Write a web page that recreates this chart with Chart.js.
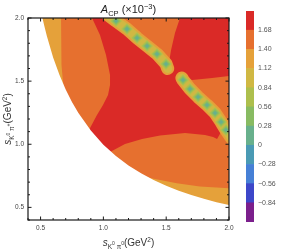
<!DOCTYPE html>
<html>
<head>
<meta charset="utf-8">
<script src="https://cdn.jsdelivr.net/npm/chart.js@4.4.0/dist/chart.umd.min.js"></script>
<style>
    body { margin: 0; background: #fff; }
    #wrap { position: relative; width: 282px; height: 249px; }
    #acp { position: absolute; left: 0; top: 0; }
    #legenda { position: absolute; left: 240px; top: 0; }
</style>
</head>
<body>
<div id="wrap">
    <canvas id="acp" width="282" height="249"></canvas>
    <canvas id="legenda" width="42" height="249"></canvas>
</div>
<script>
const FONT = "'Liberation Sans', Arial, sans-serif";

// colour bands of the A_CP legend, lowest first
const levels = [-1.12, -0.84, -0.56, -0.28, 0, 0.28, 0.56, 0.84, 1.12, 1.4, 1.68, 1.96];
const levelLabels = ["\u22120.84", "\u22120.56", "\u22120.28", "0", "0.28", "0.56", "0.84", "1.12", "1.40", "1.68"];
const levelColors = [
    "#7b1f8c", "#3d47c9", "#4680d6", "#4a9ab4", "#68b08c", "#88bb62",
    "#adbf4d", "#d0b843", "#e5a13a", "#e6702f", "#da2a27",
];

const axisTicks = [0.5, 1.0, 1.5, 2.0];
const minorTicks = [0.4, 0.5, 0.6, 0.7, 0.8, 0.9, 1.0, 1.1, 1.2, 1.3, 1.4, 1.5, 1.6, 1.7, 1.8, 1.9, 2.0];

// edge of the phase space (s_K0pi0, s_K0pi+)
const dalitzEdge = [
    [0.515, 2.0], [0.53, 1.937], [0.55, 1.858], [0.6, 1.688], [0.65, 1.55], [0.7, 1.433],
    [0.75, 1.334], [0.8, 1.249], [0.9, 1.108], [1.0, 0.996], [1.1, 0.907], [1.2, 0.832],
    [1.3, 0.77], [1.4, 0.717], [1.5, 0.672], [1.6, 0.632], [1.7, 0.598], [1.8, 0.568],
    [1.9, 0.541], [2.0, 0.518],
];

// regions of the contour map
const baseRegion = [[0.4, 0.4], [2.0, 0.4], [2.0, 2.0], [0.4, 2.0]];
const leftBand = [
    [0.4, 2.0], [0.663, 2.0], [0.665, 1.75], [0.668, 1.63], [0.679, 1.49], [0.69, 1.41],
    [0.7, 1.37], [0.6, 1.3], [0.4, 1.3],
];
const bottomBand = [
    [1.3, 0.76], [1.371, 0.732], [1.584, 0.692], [1.768, 0.666], [2.0, 0.652], [2.0, 0.4], [1.3, 0.4],
];
const redRegion = [
    [0.91, 2.0], [1.068, 2.0], [1.101, 1.976], [1.188, 1.913], [1.268, 1.842], [1.348, 1.778],
    [1.427, 1.715], [1.499, 1.636], [1.507, 1.604], [1.523, 1.652], [1.539, 1.747], [1.57, 1.881],
    [1.61, 2.0], [2.0, 2.0], [2.0, 1.541], [1.865, 1.525], [1.706, 1.509], [1.65, 1.53],
    [1.634, 1.509], [1.69, 1.438], [1.754, 1.374], [1.825, 1.311], [1.889, 1.248], [1.937, 1.176],
    [1.95, 1.12], [1.905, 1.042], [1.873, 1.057], [1.809, 1.073], [1.65, 1.089], [1.451, 1.069],
    [1.308, 1.042], [1.172, 1.002], [1.053, 0.939], [1.0, 0.92], [0.85, 1.0], [0.894, 1.129],
    [0.949, 1.232], [0.997, 1.311], [1.037, 1.39], [1.053, 1.469], [1.053, 1.548], [1.021, 1.707],
    [0.973, 1.865],
];

// the two chains of small A_CP
const upperRidge = [
    [1.03, 2.03], [1.101, 1.976], [1.188, 1.913], [1.268, 1.842], [1.348, 1.778],
    [1.427, 1.715], [1.499, 1.636], [1.512, 1.6],
];
const upperSpots = [
    [1.101, 1.976], [1.188, 1.913], [1.268, 1.842], [1.348, 1.778], [1.427, 1.715], [1.499, 1.636],
];
const lowerRidge = [
    [1.625, 1.525], [1.634, 1.509], [1.69, 1.438], [1.754, 1.374], [1.825, 1.311],
    [1.889, 1.248], [1.937, 1.176], [1.976, 1.113], [2.02, 1.05],
];
const lowerSpots = [
    [1.634, 1.509], [1.69, 1.438], [1.754, 1.374], [1.825, 1.311], [1.889, 1.248],
    [1.937, 1.176], [1.976, 1.113],
];

function pts(list) {
    return list.map(([x, y]) => ({ x: x, y: y }));
}

function area(list, color) {
    return {
        data: pts(list),
        showLine: true,
        fill: "shape",
        backgroundColor: color,
        borderColor: "rgba(0,0,0,0)",
        borderWidth: 0,
        pointRadius: 0,
        tension: 0,
        clip: 0,
    };
}

function ridge(list, color, width) {
    return {
        data: pts(list),
        showLine: true,
        fill: false,
        borderColor: color,
        borderWidth: width,
        borderCapStyle: "round",
        borderJoinStyle: "round",
        pointRadius: 0,
        tension: 0,
        clip: 0,
    };
}

function spots(list, color, r) {
    return {
        data: pts(list),
        showLine: false,
        pointStyle: "rectRot",
        pointRadius: r,
        pointBackgroundColor: color,
        pointBorderColor: "rgba(0,0,0,0)",
        pointBorderWidth: 0,
        clip: 0,
    };
}

let outside = dalitzEdge.concat([[2.0, 0.4], [0.4, 0.4], [0.4, 2.0]]);
let allSpots = upperSpots.concat(lowerSpots);

// bottom layer first
let camadas = [
    area(baseRegion, levelColors[9]),
    area(leftBand, levelColors[8]),
    area(bottomBand, levelColors[8]),
    area(redRegion, levelColors[10]),
    ridge(upperRidge, levelColors[8], 13),
    ridge(lowerRidge, levelColors[8], 13),
    ridge(upperRidge, levelColors[7], 9),
    ridge(lowerRidge, levelColors[7], 9),
    spots(allSpots, levelColors[6], 5.8),
    spots(allSpots, levelColors[5], 4),
    spots(allSpots, levelColors[4], 2.3),
    area(outside, "#ffffff"),
];

function drawRuns(ctx, runs, x, y) {
    let total = 0;
    runs.forEach((r) => {
        ctx.font = (r.it ? "italic " : "") + r.s + "px " + FONT;
        r.w = ctx.measureText(r.t).width;
        total += r.w;
    });
    let cx = x - total / 2;
    runs.forEach((r) => {
        ctx.font = (r.it ? "italic " : "") + r.s + "px " + FONT;
        ctx.fillText(r.t, cx, y + (r.dy || 0));
        cx += r.w;
    });
}

const molduraPlugin = {
    id: "moldura",
    afterDatasetsDraw(chart) {
        const ctx = chart.ctx;
        const a = chart.chartArea;
        const sx = chart.scales.x;
        const sy = chart.scales.y;
        ctx.save();
        ctx.strokeStyle = "#1a1a1a";
        ctx.lineWidth = 1.2;
        ctx.strokeRect(a.left, a.top, a.right - a.left, a.bottom - a.top);
        ctx.lineWidth = 1;
        ctx.beginPath();
        minorTicks.forEach((v) => {
            let len = axisTicks.some((m) => Math.abs(m - v) < 1e-6) ? 3.5 : 2;
            let px = sx.getPixelForValue(v);
            ctx.moveTo(px, a.bottom);
            ctx.lineTo(px, a.bottom - len);
            ctx.moveTo(px, a.top);
            ctx.lineTo(px, a.top + len);
            let py = sy.getPixelForValue(v);
            ctx.moveTo(a.left, py);
            ctx.lineTo(a.left + len, py);
            ctx.moveTo(a.right, py);
            ctx.lineTo(a.right - len, py);
        });
        ctx.stroke();
        ctx.restore();
    },
    afterDraw(chart) {
        const ctx = chart.ctx;
        const a = chart.chartArea;
        const cx = (a.left + a.right) / 2;
        ctx.save();
        ctx.fillStyle = "#222";
        ctx.textBaseline = "alphabetic";
        drawRuns(ctx, [
            { t: "A", s: 11, it: true },
            { t: "CP", s: 7.5, dy: 2.5 },
            { t: " (\u00d710", s: 11 },
            { t: "\u22123", s: 7.5, dy: -4.5 },
            { t: ")", s: 11 },
        ], cx, 13);
        ctx.fillStyle = "#333";
        drawRuns(ctx, [
            { t: "s", s: 10, it: true },
            { t: "K", s: 6.5, dy: 2.5 },
            { t: "0", s: 5, dy: -1 },
            { t: " \u03c0", s: 6.5, dy: 2.5 },
            { t: "0", s: 5, dy: -1 },
            { t: "(GeV", s: 10 },
            { t: "2", s: 6.5, dy: -4 },
            { t: ")", s: 10 },
        ], cx, 246);
        ctx.translate(11, (a.top + a.bottom) / 2);
        ctx.rotate(-Math.PI / 2);
        drawRuns(ctx, [
            { t: "s", s: 10, it: true },
            { t: "K", s: 6.5, dy: 2.5 },
            { t: "0", s: 5, dy: -1 },
            { t: " \u03c0", s: 6.5, dy: 2.5 },
            { t: "+", s: 5, dy: -1 },
            { t: "(GeV", s: 10 },
            { t: "2", s: 6.5, dy: -4 },
            { t: ")", s: 10 },
        ], 0, 0);
        ctx.restore();
    },
};

function eixo(pos, size) {
    return {
        type: "linear",
        position: pos,
        min: 0.4,
        max: 2.0,
        afterBuildTicks: (s) => {
            s.ticks = axisTicks.map((v) => ({ value: v }));
        },
        afterFit: (s) => {
            if (pos === "bottom") s.height = size;
            else s.width = size;
        },
        grid: { display: false, drawTicks: false },
        border: { display: false },
        ticks: {
            callback: (v) => v.toFixed(1),
            font: { family: FONT, size: 6.5 },
            color: "#444",
            padding: 4,
            maxRotation: 0,
            autoSkip: false,
        },
    };
}

new Chart(document.getElementById("acp"), {
    type: "scatter",
    data: { datasets: camadas.slice().reverse() },
    options: {
        responsive: false,
        animation: false,
        devicePixelRatio: 1,
        events: [],
        layout: { padding: { top: 18, right: 53, left: 0, bottom: 0 } },
        plugins: { legend: { display: false }, tooltip: { enabled: false } },
        scales: { x: eixo("bottom", 29), y: eixo("left", 28) },
    },
    plugins: [molduraPlugin],
});

// colour bar: one floating bar per band
let faixas = levelColors.map((cor, i) => ({
    data: [[levels[i], levels[i + 1]]],
    backgroundColor: cor,
    borderWidth: 0,
    barPercentage: 1,
    categoryPercentage: 1,
}));

new Chart(document.getElementById("legenda"), {
    type: "bar",
    data: { labels: [""], datasets: faixas },
    options: {
        responsive: false,
        animation: false,
        devicePixelRatio: 1,
        events: [],
        layout: { padding: { top: 11, bottom: 27, left: 6, right: 0 } },
        plugins: { legend: { display: false }, tooltip: { enabled: false } },
        scales: {
            x: { display: false, stacked: true },
            y: {
                position: "right",
                min: levels[0],
                max: levels[levels.length - 1],
                afterBuildTicks: (s) => {
                    s.ticks = levels.slice(1, -1).map((v) => ({ value: v }));
                },
                afterFit: (s) => {
                    s.width = 28;
                },
                grid: { display: false, drawTicks: false },
                border: { display: false },
                ticks: {
                    callback: (v, i) => levelLabels[i],
                    font: { family: FONT, size: 7 },
                    color: "#555",
                    padding: 4,
                    autoSkip: false,
                },
            },
        },
    },
});
</script>
</body>
</html>
